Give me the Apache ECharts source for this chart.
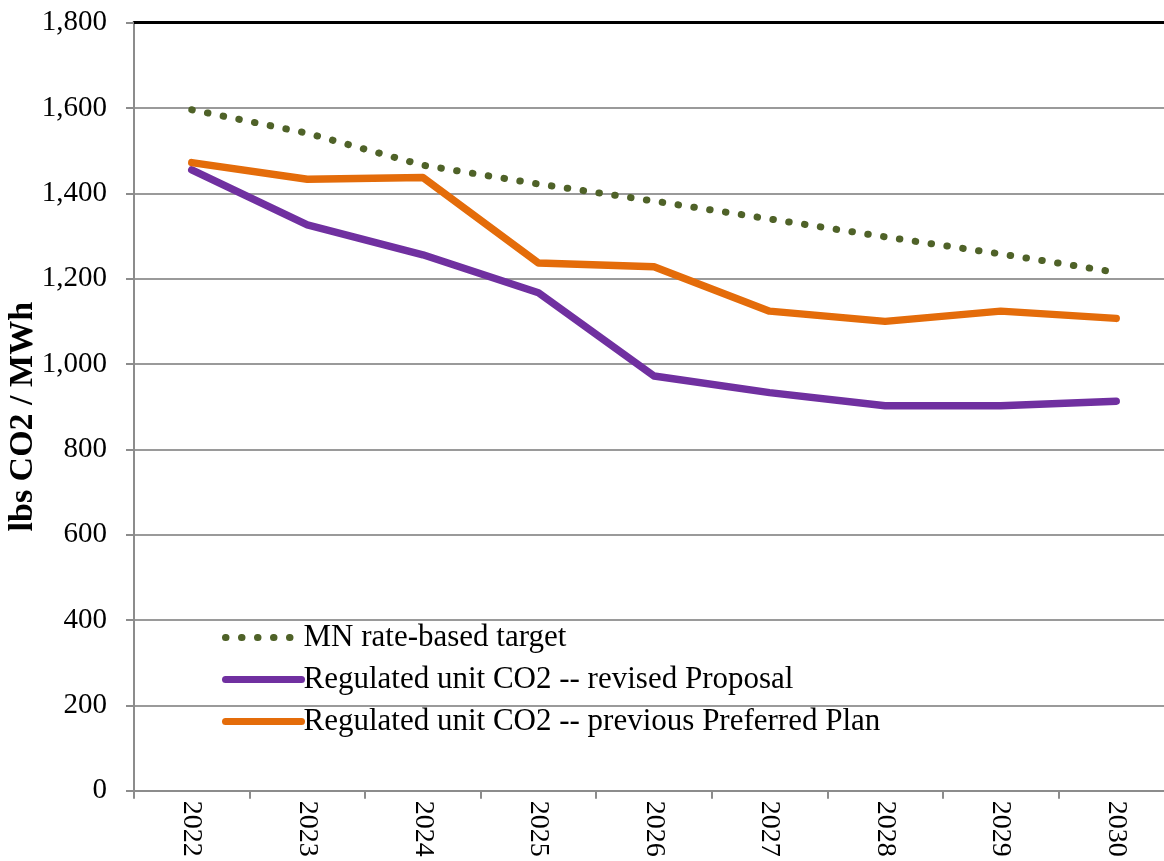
<!DOCTYPE html>
<html>
<head>
<meta charset="utf-8">
<script src="https://cdn.jsdelivr.net/npm/echarts@6/dist/echarts.min.js"></script>
<style>
  html, body { margin: 0; padding: 0; background: #fff; }
  #chart { width: 1164px; height: 861px; }
</style>
</head>
<body>
<div id="chart"></div>
<script>
// Years on the category axis
const years = ['2022', '2023', '2024', '2025', '2026', '2027', '2028', '2029', '2030'];

// Emission rates, lbs CO2 / MWh
const targetRate = [1596, 1541, 1466, 1422, 1382, 1340, 1298, 1258, 1215];
const revisedProposal = [1455, 1326, 1256, 1167, 972, 933, 902, 902, 913];
const previousPlan = [1472, 1433, 1437, 1237, 1228, 1124, 1100, 1124, 1107];

// Y axis range and step
const yMin = 0;
const yMax = 1800;
const yStep = 200;

const serif = '"Liberation Serif", "DejaVu Serif", serif';

const chart = echarts.init(document.getElementById('chart'), null, { renderer: 'canvas' });

chart.setOption({
  animation: false,
  backgroundColor: '#ffffff',
  textStyle: { fontFamily: serif },
  grid: { left: 134, top: 22.7, width: 1040, height: 768, outerBoundsMode: 'none' },
  legend: {
    orient: 'vertical',
    left: 222,
    top: 622,
    padding: 0,
    itemWidth: 76,
    itemHeight: 14,
    itemGap: 11,
    itemStyle: { opacity: 0 },
    lineStyle: { width: 7 },
    textStyle: { fontFamily: serif, fontSize: 31, lineHeight: 31, color: '#000', padding: [0, 0, 0, -3] },
    data: ['MN rate-based target', 'Regulated unit CO2 -- revised Proposal', 'Regulated unit CO2 -- previous Preferred Plan']
  },
  xAxis: [
    {
      type: 'category',
      data: years,
      boundaryGap: true,
      axisLine: { lineStyle: { color: '#8c8c8c', width: 2 } },
      axisTick: { show: true, alignWithLabel: false, length: 8, lineStyle: { color: '#8c8c8c', width: 2 } },
      axisLabel: { rotate: -90, margin: 10, fontFamily: serif, fontSize: 28, color: '#000' },
      splitLine: { show: false }
    },
    {
      // top border of the plot area
      type: 'category',
      position: 'top',
      data: years,
      axisLine: { lineStyle: { color: '#000', width: 3 } },
      axisTick: { show: false },
      axisLabel: { show: false }
    }
  ],
  yAxis: {
    type: 'value',
    min: yMin,
    max: yMax,
    interval: yStep,
    name: 'lbs CO2 / MWh',
    nameLocation: 'middle',
    nameGap: 94,
    nameMoveOverlap: false,
    nameRotate: 90,
    nameTextStyle: { fontFamily: serif, fontSize: 34, fontWeight: 'bold', color: '#000', padding: [0, 20, 0, 0] },
    axisLine: { show: true, lineStyle: { color: '#8c8c8c', width: 2 } },
    axisTick: { show: true, length: 8, lineStyle: { color: '#8c8c8c', width: 2 } },
    axisLabel: {
      margin: 27,
      fontFamily: serif,
      fontSize: 29,
      color: '#000',
      formatter: v => v.toLocaleString('en-US')
    },
    splitLine: { show: true, lineStyle: { color: '#9a9a9a', width: 2 } }
  },
  series: [
    {
      name: 'MN rate-based target',
      type: 'line',
      data: targetRate,
      symbol: 'none',
      color: '#4f6228',
      lineStyle: { color: '#4f6228', width: 7, type: [0.5, 15.5], cap: 'round' }
    },
    {
      name: 'Regulated unit CO2 -- revised Proposal',
      type: 'line',
      data: revisedProposal,
      symbol: 'none',
      color: '#7030a0',
      lineStyle: { color: '#7030a0', width: 7.5, cap: 'round', join: 'round' }
    },
    {
      name: 'Regulated unit CO2 -- previous Preferred Plan',
      type: 'line',
      data: previousPlan,
      symbol: 'none',
      color: '#e46c0a',
      lineStyle: { color: '#e46c0a', width: 7.5, cap: 'round', join: 'round' }
    }
  ]
});
</script>
</body>
</html>
